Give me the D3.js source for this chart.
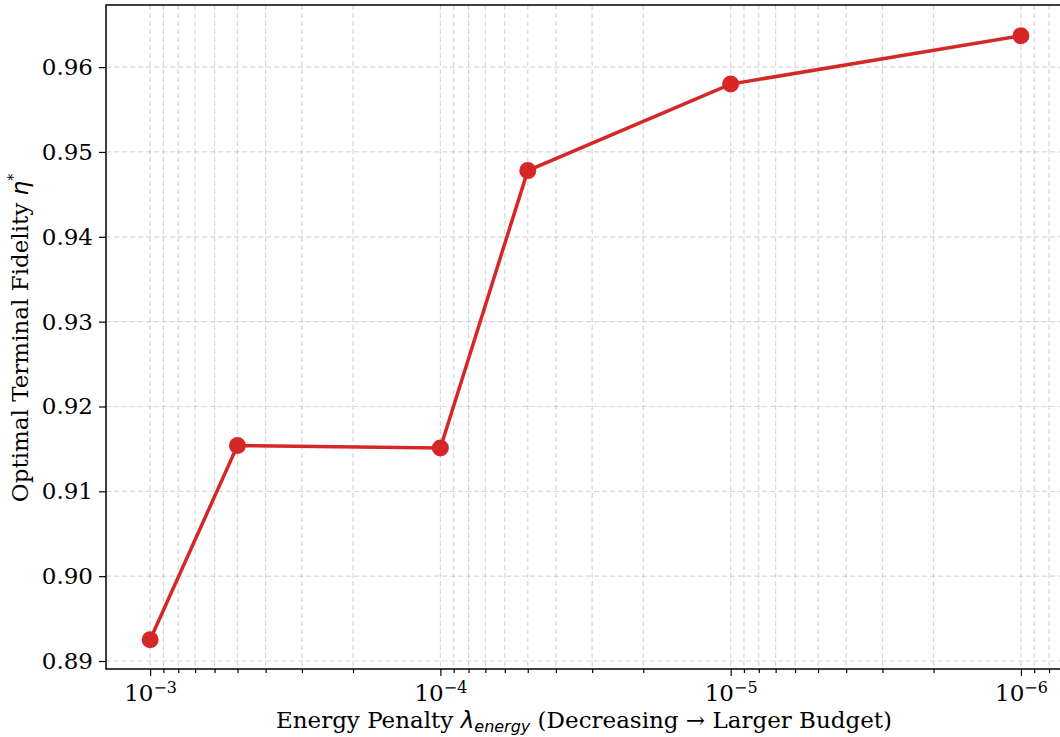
<!DOCTYPE html>
<html>
<head>
<meta charset="utf-8">
<script src="https://cdn.jsdelivr.net/npm/d3@7"></script>
<style>
  body { margin: 0; background: #fff; }
  svg { display: block; }
</style>
</head>
<body>
<div id="chart"></div>
<script>
// penalty values (x) and optimal fidelity (y)
const lambdas = [1e-3, 5e-4, 1e-4, 5e-5, 1e-5, 1e-6];
const fidelity = [0.8925, 0.9154, 0.9151, 0.9478, 0.9580, 0.9637];
const yTicks = [0.89, 0.90, 0.91, 0.92, 0.93, 0.94, 0.95, 0.96];
const xMajor = [1e-3, 1e-4, 1e-5, 1e-6];
const xExp = ["\u22123", "\u22124", "\u22125", "\u22126"];

const W = 1060, H = 737;
const margin = {top: 5, right: -2, bottom: 68, left: 106};
const width = W - margin.left - margin.right;
const height = H - margin.top - margin.bottom;
const FS = "23px";

const svg = d3.select("#chart").append("svg")
    .attr("width", W)
    .attr("height", H);

const g = svg.append("g")
    .attr("transform", "translate(" + margin.left + "," + margin.top + ")");

// reversed log scale: large penalty on the left
const x = d3.scaleLog()
    .domain([1.419e-3, 7.22e-7])
    .range([0, width]);

const y = d3.scaleLinear()
    .domain([0.88906, 0.96732])
    .range([height, 0]);

// minor ticks for each decade
const xMinor = [];
[1e-7, 1e-6, 1e-5, 1e-4, 1e-3].forEach(dec => {
    for (let k = 2; k <= 9; k++) {
        const v = dec * k;
        if (v <= 1.419e-3 && v >= 7.22e-7) xMinor.push(v);
    }
});

const gridStyle = sel => sel
    .attr("stroke", "#b0b0b0")
    .attr("stroke-opacity", 0.5)
    .attr("stroke-width", 1.2)
    .attr("stroke-dasharray", "5,3");

// grid
g.append("g").selectAll("line")
    .data(xMajor.concat(xMinor))
    .enter().append("line")
    .attr("x1", d => x(d)).attr("x2", d => x(d))
    .attr("y1", 0).attr("y2", height)
    .call(gridStyle);

g.append("g").selectAll("line")
    .data(yTicks)
    .enter().append("line")
    .attr("x1", 0).attr("x2", width)
    .attr("y1", d => y(d)).attr("y2", d => y(d))
    .call(gridStyle);

// axes
const xAxis = g.append("g")
    .attr("transform", "translate(0," + height + ")")
    .call(d3.axisBottom(x).tickValues(xMajor).tickSize(7).tickFormat(""));
xAxis.select(".domain").remove();

xAxis.selectAll(".tick").append("text")
    .attr("y", 32)
    .attr("fill", "#000")
    .attr("text-anchor", "middle")
    .style("font-family", "DejaVu Serif")
    .style("font-size", FS)
    .each(function(d, i) {
        const t = d3.select(this);
        t.append("tspan").text("10");
        t.append("tspan").attr("dy", -8).style("font-size", "16px").text(xExp[i]);
    });

const xMinorAxis = g.append("g")
    .attr("transform", "translate(0," + height + ")")
    .call(d3.axisBottom(x).tickValues(xMinor).tickSize(4).tickFormat(""));
xMinorAxis.select(".domain").remove();

const yAxis = g.append("g")
    .call(d3.axisLeft(y).tickValues(yTicks).tickSize(7).tickPadding(6).tickFormat(d3.format(".2f")));
yAxis.select(".domain").remove();
yAxis.selectAll("text")
    .style("font-family", "DejaVu Serif")
    .style("font-size", FS)
    .attr("fill", "#000");

g.selectAll(".tick line").attr("stroke", "#000").attr("stroke-width", 1.2);

// spines
g.append("rect")
    .attr("width", width).attr("height", height)
    .attr("fill", "none")
    .attr("stroke", "#000")
    .attr("stroke-width", 1.5);

// data line
const pts = lambdas.map((d, i) => ({x: d, y: fidelity[i]}));
g.append("path")
    .datum(pts)
    .attr("fill", "none")
    .attr("stroke", "#d62728")
    .attr("stroke-width", 3.5)
    .attr("d", d3.line().x(d => x(d.x)).y(d => y(d.y)));

g.selectAll("circle")
    .data(pts)
    .enter().append("circle")
    .attr("cx", d => x(d.x))
    .attr("cy", d => y(d.y))
    .attr("r", 8.5)
    .attr("fill", "#d62728");

// labels
const xl = svg.append("text")
    .attr("x", 584)
    .attr("y", 728)
    .attr("text-anchor", "middle")
    .style("font-family", "DejaVu Serif")
    .style("font-size", FS)
    .attr("fill", "#000");
xl.append("tspan").text("Energy Penalty ");
xl.append("tspan").style("font-family", "DejaVu Sans").style("font-style", "italic").text("\u03bb");
xl.append("tspan").attr("dy", 4).style("font-family", "DejaVu Sans").style("font-style", "italic")
    .style("font-size", "16px").text("energy");
xl.append("tspan").attr("dy", -4).text(" (Decreasing \u2192 Larger Budget)");

const yl = svg.append("text")
    .attr("transform", "translate(28,338) rotate(-90)")
    .attr("text-anchor", "middle")
    .style("font-family", "DejaVu Serif")
    .style("font-size", FS)
    .attr("fill", "#000");
yl.append("tspan").text("Optimal Terminal Fidelity ");
yl.append("tspan").style("font-family", "DejaVu Sans").style("font-style", "italic").text("\u03b7");
yl.append("tspan").attr("dy", -10).style("font-size", "14px").text("*");
</script>
</body>
</html>
